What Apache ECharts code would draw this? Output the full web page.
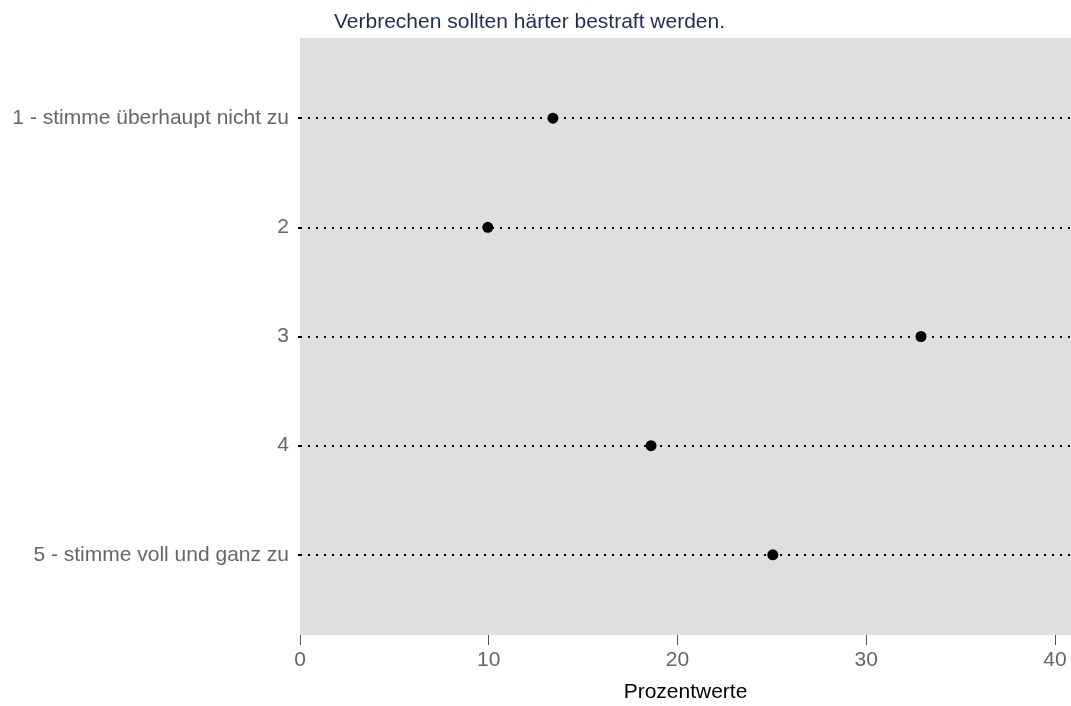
<!DOCTYPE html>
<html>
<head>
<meta charset="utf-8">
<script src="https://cdn.jsdelivr.net/npm/echarts@6/dist/echarts.min.js"></script>
<style>
html,body{margin:0;padding:0;background:#fff;}
#chart{width:1071px;height:706px;}
</style>
</head>
<body>
<div id="chart"></div>
<script>
const titleText = "Verbrechen sollten härter bestraft werden.";
const categories = ["1 - stimme überhaupt nicht zu", "2", "3", "4", "5 - stimme voll und ganz zu"];
const values = [13.4, 9.95, 32.9, 18.6, 25.05];
const xTicks = [0, 10, 20, 30, 40];
const xTitle = "Prozentwerte";

const positions = categories.map((c, i) => i + 1);
const FONT = "Liberation Sans, Arial, sans-serif";

const chart = echarts.init(document.getElementById('chart'));
chart.setOption({
  animation: false,
  textStyle: { fontFamily: FONT },
  title: {
    text: titleText,
    left: 329, top: 7,
    textStyle: { color: '#1f2d56', fontSize: 21, fontWeight: 'normal', fontFamily: FONT }
  },
  grid: {
    left: 300, right: 0, top: 38, bottom: 71,
    outerBoundsMode: 'none', containLabel: false,
    show: true, backgroundColor: '#dfdfdf', borderWidth: 0
  },
  xAxis: {
    type: 'value', min: 0, max: 40.85, interval: 10,
    name: xTitle, nameLocation: 'middle', nameGap: 47,
    nameTextStyle: { color: '#000', fontSize: 21, fontFamily: FONT },
    axisLine: { show: false },
    axisTick: { show: true, length: 10, lineStyle: { color: '#555', width: 1 }, customValues: xTicks },
    axisLabel: { color: '#666', fontSize: 21, margin: 15, customValues: xTicks, fontFamily: FONT },
    splitLine: { show: false }
  },
  yAxis: {
    type: 'value', inverse: true, min: 0.266, max: 5.734,
    axisLine: { show: false },
    axisTick: { show: true, length: 4, customValues: positions, lineStyle: { color: '#000', width: 2, type: [2, 6] } },
    axisLabel: {
      customValues: positions, color: '#666', fontSize: 21, margin: 11, fontFamily: FONT,
      formatter: v => categories[Math.round(v) - 1]
    },
    splitLine: { show: false }
  },
  series: [{
    type: 'scatter',
    symbol: 'circle', symbolSize: 11,
    itemStyle: { color: '#000', opacity: 1 },
    data: values.map((v, i) => [v, positions[i]]),
    z: 3,
    markLine: {
      silent: true, symbol: 'none', label: { show: false },
      lineStyle: { color: '#000', width: 2, type: [2, 6], cap: 'butt', opacity: 1 },
      data: positions.map(p => ({ yAxis: p })),
      z: 2
    }
  }]
});
</script>
</body>
</html>
